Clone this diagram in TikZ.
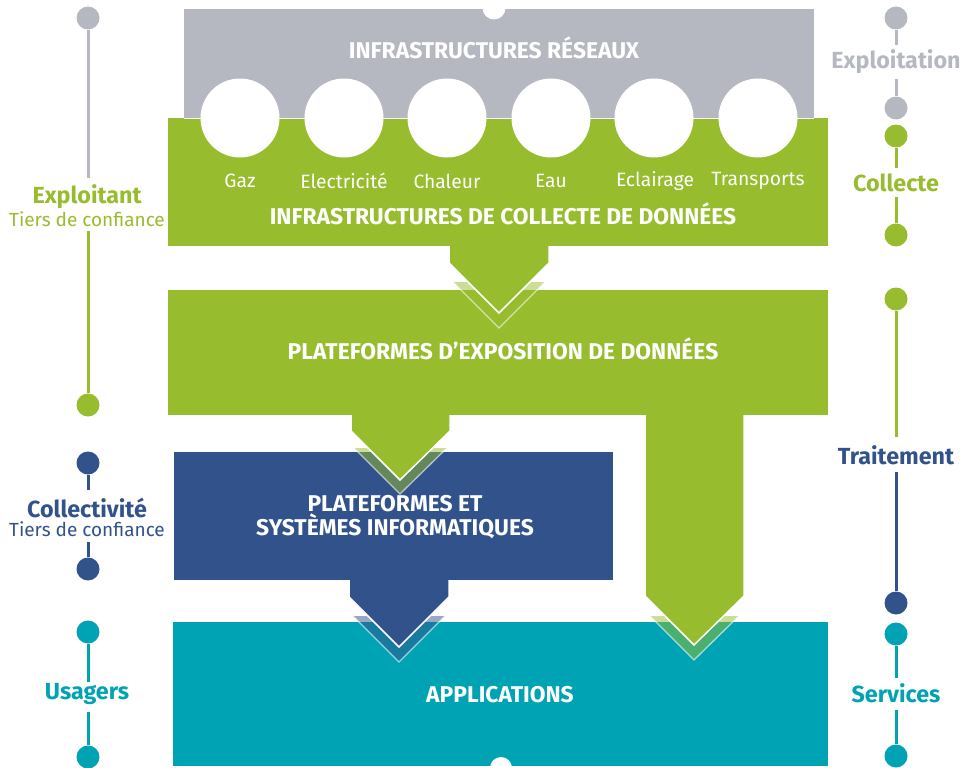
\documentclass[tikz,border=0pt]{standalone}
\usepackage{fontspec}
\setmainfont{Fira Sans}
\definecolor{cgray}{RGB}{181,184,192}
\definecolor{cgreen}{RGB}{151,188,45}
\definecolor{cblue}{RGB}{49,82,139}
\definecolor{cteal}{RGB}{0,163,180}
\tikzset{
  title/.style={font=\fontsize{22.8}{22}\selectfont\bfseries, text=white, align=center, inner sep=0pt},
  small/.style={font=\fontsize{19.3}{20}\selectfont, text=white, inner sep=0pt},
  sidebold/.style={font=\fontsize{23.3}{24}\selectfont\bfseries, inner sep=0pt},
  sidesub/.style={font=\fontsize{19}{20}\selectfont, inner sep=0pt},
  tl/.style={line width=3pt},
  dot/.style={circle, minimum size=23pt, inner sep=0pt},
  ghostfill/.style={opacity=.5},
  ghostedge/.style={draw=white, draw opacity=.6, line width=1.3pt},
  arrowedge/.style={draw=white, line width=1.5pt},
}
\begin{document}
\begin{tikzpicture}[x=1pt,y=-1pt]
\useasboundingbox (0,0) rectangle (969,768);
% boxes
\fill[cgray] (184,9) rectangle (814,118);
\fill[white] (494,8) circle (11.5);
\fill[cgreen] (168,118) rectangle (828,246);
\draw[white, line width=1pt] (184,118) -- (814,118);
\fill[cgreen] (168,290) rectangle (828,415);
\fill[cblue] (174,452) rectangle (613,580);
\fill[cteal] (173,622) rectangle (828,766);
\fill[white] (501,768) circle (11);
% circles
\foreach \cx in {240,344,447,551,654,758} \fill[white] (\cx,118) circle (39.5);
% ghosts
\begin{scope}
\clip (0,282) rectangle (969,420);
\fill[cgreen, ghostfill] (449,250) -- (449,278) -- (499,328) -- (549,278) -- (549,250) -- cycle;
\draw[ghostedge] (449,278) -- (499,328) -- (549,278);
\end{scope}
\begin{scope}
\clip (0,448) rectangle (969,600);
\fill[cgreen, ghostfill] (351,420) -- (351,445) -- (400,494) -- (450,445) -- (450,420) -- cycle;
\draw[ghostedge] (351,445) -- (400,494) -- (450,445);
\end{scope}
\begin{scope}
\clip (0,616) rectangle (969,768);
\fill[cblue, ghostfill] (349,590) -- (349,612) -- (399,662) -- (449,612) -- (449,590) -- cycle;
\draw[ghostedge] (349,612) -- (399,662) -- (449,612);
\fill[cgreen, ghostfill] (645,590) -- (645,611) -- (694,660) -- (744,611) -- (744,590) -- cycle;
\draw[ghostedge] (645,611) -- (694,660) -- (744,611);
\end{scope}
% arrows
\fill[cgreen] (449,240) -- (449,263) -- (499,313) -- (549,263) -- (549,240) -- cycle;
\draw[arrowedge] (449,246) -- (449,263) -- (499,313) -- (549,263) -- (549,246);
\fill[cgreen] (351,410) -- (351,431) -- (400,480) -- (450,431) -- (450,410) -- cycle;
\draw[arrowedge] (351,415) -- (351,431) -- (400,480) -- (450,431) -- (450,415);
\fill[cblue] (349,575) -- (349,597) -- (399,647) -- (449,597) -- (449,575) -- cycle;
\draw[arrowedge] (349,580) -- (349,597) -- (399,647) -- (449,597) -- (449,580);
\fill[cgreen] (645,410) -- (645,596) -- (694,645) -- (744,596) -- (744,410) -- cycle;
\draw[arrowedge] (645,415) -- (645,596) -- (694,645) -- (744,596) -- (744,415);
% titles
\node[title] (t1) at (494,48) {INFRASTRUCTURES RÉSEAUX};
\node[title] (t2) at (503,214) {INFRASTRUCTURES DE COLLECTE DE DONNÉES};
\node[title] (t3) at (503,349) {PLATEFORMES D’EXPOSITION DE DONNÉES};
\node[title] (t4) at (395,517) {PLATEFORMES ET\\SYSTÈMES INFORMATIQUES};
\node[title] (t5) at (500,695) {APPLICATIONS};
\node[small] (g1) at (240,181) {Gaz};
\node[small] (g2) at (344,181) {Electricité};
\node[small] (g3) at (447,181) {Chaleur};
\node[small] (g4) at (551,181) {Eau};
\node[small] (g5) at (655,181) {Eclairage};
\node[small] (g6) at (758,181) {Transports};
% left timeline
\node[dot, fill=cgray] (l1) at (88,18) {};
\coordinate (l1e) at (88,178);
\draw[tl, cgray] (l1) -- (l1e);
\node[sidebold, text=cgreen] (lx) at (87,197) {Exploitant};
\node[sidesub, text=cgreen] (lxs) at (87,219) {Tiers de confiance};
\coordinate (l2s) at (88,231);
\node[dot, fill=cgreen] (l2) at (88,405) {};
\draw[tl, cgreen] (l2s) -- (l2);
\node[dot, fill=cblue] (l3) at (88,463) {};
\coordinate (l3e) at (88,490);
\draw[tl, cblue] (l3) -- (l3e);
\node[sidebold, text=cblue] (lc) at (87,508) {Collectivité};
\node[sidesub, text=cblue] (lcs) at (87,529) {Tiers de confiance};
\coordinate (l4s) at (88,542);
\node[dot, fill=cblue] (l4) at (88,569) {};
\draw[tl, cblue] (l4s) -- (l4);
\node[dot, fill=cteal] (l5) at (88,632) {};
\coordinate (l5e) at (88,682);
\draw[tl, cteal] (l5) -- (l5e);
\node[sidebold, text=cteal] (lu) at (87,694) {Usagers};
\coordinate (l6s) at (88,712);
\node[dot, fill=cteal] (l6) at (88,757) {};
\draw[tl, cteal] (l6s) -- (l6);
% right timeline
\node[dot, fill=cgray] (r1) at (896,18) {};
\coordinate (r1e) at (896,45);
\draw[tl, cgray] (r1) -- (r1e);
\node[sidebold, text=cgray] (re) at (896,62) {Exploitation};
\coordinate (r2s) at (896,79);
\node[dot, fill=cgray] (r2) at (896,108) {};
\draw[tl, cgray] (r2s) -- (r2);
\node[dot, fill=cgreen] (r3) at (896,136) {};
\coordinate (r3e) at (896,168);
\draw[tl, cgreen] (r3) -- (r3e);
\node[sidebold, text=cgreen] (rc) at (896,183) {Collecte};
\coordinate (r4s) at (896,197);
\node[dot, fill=cgreen] (r4) at (896,235) {};
\draw[tl, cgreen] (r4s) -- (r4);
\node[dot, fill=cgreen] (r5) at (896,299) {};
\coordinate (r5e) at (896,437);
\draw[tl, cgreen] (r5) -- (r5e);
\node[sidebold, text=cblue] (rt) at (896,455) {Traitement};
\coordinate (r6s) at (896,472);
\node[dot, fill=cblue] (r6) at (896,603) {};
\draw[tl, cblue] (r6s) -- (r6);
\node[dot, fill=cteal] (r7) at (896,634) {};
\coordinate (r7e) at (896,678);
\draw[tl, cteal] (r7) -- (r7e);
\node[sidebold, text=cteal] (rs) at (896,693) {Services};
\coordinate (r8s) at (896,710);
\node[dot, fill=cteal] (r8) at (896,756) {};
\draw[tl, cteal] (r8s) -- (r8);
\end{tikzpicture}
\end{document}
